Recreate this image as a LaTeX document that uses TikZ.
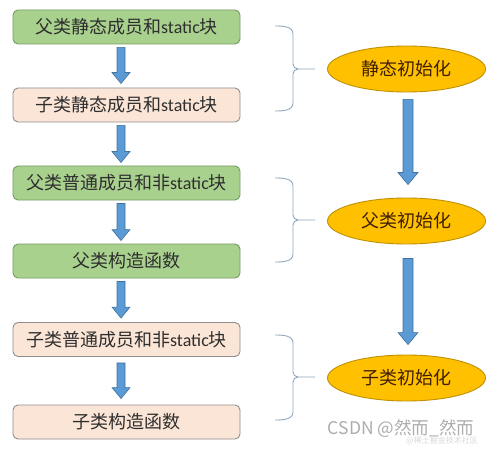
\documentclass[tikz,border=0pt]{standalone}
\usepackage{fontspec}
\newfontfamily\cjk{Noto Sans CJK SC}
\newfontfamily\lat{Carlito}
\usetikzlibrary{shapes.geometric,calc}
\definecolor{gfill}{HTML}{A9D18E}
\definecolor{gline}{HTML}{789A66}
\definecolor{pfill}{HTML}{FBE5D6}
\definecolor{pline}{HTML}{8E8E8E}
\definecolor{efill}{HTML}{FFC000}
\definecolor{eline}{HTML}{BF9000}
\definecolor{afill}{HTML}{5B9BD5}
\definecolor{aline}{HTML}{41719C}
\definecolor{brc}{HTML}{8FA8BF}
\definecolor{etext}{HTML}{3F1F00}
\tikzset{
  box/.style={draw, line width=0.9pt, rounded corners=5pt, minimum width=227pt,
    minimum height=34pt, inner sep=0pt, font=\cjk\fontsize{18pt}{20pt}\selectfont,
    text=black!82},
  gbox/.style={box, fill=gfill, draw=gline},
  pbox/.style={box, fill=pfill, draw=pline},
  oval/.style={ellipse, draw=eline, fill=efill, line width=0.9pt, minimum width=158pt,
    minimum height=46pt, inner sep=0pt, font=\cjk\fontsize{18pt}{20pt}\selectfont,
    text=etext},
  barrowstyle/.style={fill=afill, draw=aline, line width=0.6pt, line join=miter},
  bracestyle/.style={draw=brc, line width=0.9pt},
}
% block arrow: #1 top point, #2 tip point, #3 shaft half width, #4 head half width, #5 head length
\newcommand{\blockarr}[5]{%
  \path[barrowstyle] ($(#1)+(-#3,0)$) -- ($(#2)+(-#3,-#5)$) -- ($(#2)+(-#4,-#5)$) -- (#2)
    -- ($(#2)+(#4,-#5)$) -- ($(#2)+(#3,-#5)$) -- ($(#1)+(#3,0)$) -- cycle;}
% right brace: #1 x of left ends, #2 top y, #3 bottom y, #4 mid y
\newcommand{\rightbrc}[4]{%
  \path[bracestyle] (#1,#2) to[out=0,in=90] (#1+18,#2+8) -- (#1+18,#4-5)
    to[out=-90,in=180] (#1+23,#4) -- (#1+40,#4);
  \path[bracestyle] (#1+23,#4) to[out=180,in=90] (#1+18,#4+5) -- (#1+18,#3-8)
    to[out=-90,in=0] (#1,#3);}
\begin{document}
\begin{tikzpicture}[x=1pt,y=-1pt]
\useasboundingbox[fill=white] (0,0) rectangle (492,449);
\node[gbox] (b1) at (126.5,27) {父类静态成员和{\lat static}块};
\node[pbox] (b2) at (126.5,105) {子类静态成员和{\lat static}块};
\node[gbox] (b3) at (126.5,183) {父类普通成员和非{\lat static}块};
\node[gbox] (b4) at (126.5,261) {父类构造函数};
\node[pbox] (b5) at (126.5,339.5) {子类普通成员和非{\lat static}块};
\node[pbox] (b6) at (126.5,422) {子类构造函数};
\node[oval] (e1) at (406.5,69) {静态初始化};
\node[oval] (e2) at (406.5,221) {父类初始化};
\node[oval] (e3) at (406.5,378) {子类初始化};
% small arrows
\coordinate (a1s) at ($(b1.south)+(-5.5,3)$);
\coordinate (a1e) at ($(b2.north)+(-5.5,-4)$);
\coordinate (a2s) at ($(b2.south)+(-5.5,3)$);
\coordinate (a2e) at ($(b3.north)+(-5.5,-3)$);
\coordinate (a3s) at ($(b3.south)+(-5.5,3)$);
\coordinate (a3e) at ($(b4.north)+(-5.5,-3)$);
\coordinate (a4s) at ($(b4.south)+(-5.5,3)$);
\coordinate (a4e) at ($(b5.north)+(-5.5,-4)$);
\coordinate (a5s) at ($(b5.south)+(-5.5,6)$);
\coordinate (a5e) at ($(b6.north)+(-5.5,-6)$);
\blockarr{a1s}{a1e}{4}{9}{11}
\blockarr{a2s}{a2e}{4}{9}{11}
\blockarr{a3s}{a3e}{4}{9}{11}
\blockarr{a4s}{a4e}{4}{9}{11}
\blockarr{a5s}{a5e}{4}{9}{11}
% big arrows
\coordinate (c1s) at ($(e1.south)+(1.5,7)$);
\coordinate (c1e) at ($(e2.north)+(1.5,-13)$);
\coordinate (c2s) at ($(e2.south)+(1.5,14)$);
\coordinate (c2e) at ($(e3.north)+(1.5,-10)$);
\blockarr{c1s}{c1e}{5}{10}{12}
\blockarr{c2s}{c2e}{5}{10}{12}
% braces
\rightbrc{275}{26}{111}{69}
\rightbrc{275}{178}{262}{220}
\rightbrc{275}{335}{420}{377}
% watermarks
\node[text=black!32, font=\cjk\fontsize{17.5pt}{19pt}\selectfont, anchor=center] (wm) at (401,429) {CSDN @然而\_然而};
\node[text=black!15, font=\cjk\fontsize{8pt}{9pt}\selectfont, anchor=center] (wm2) at (442,441) {@稀土掘金技术社区};
\end{tikzpicture}
\end{document}
